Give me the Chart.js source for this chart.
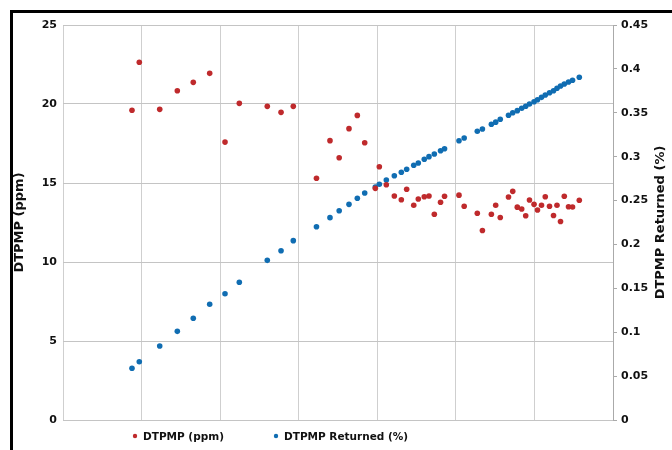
<!DOCTYPE html>
<html>
<head>
<meta charset="utf-8">
<script src="https://cdn.jsdelivr.net/npm/chart.js@4"></script>
<style>
  html, body { margin: 0; padding: 0; background: #fff; overflow: hidden; }
  #wrap { position: relative; width: 672px; height: 450px; }
  #frame { position: absolute; left: 10px; top: 10px; width: 700px; height: 500px;
           border: 3px solid #000; box-sizing: border-box; pointer-events: none; }
</style>
</head>
<body>
<div id="wrap">
  <canvas id="dtpmpChart" width="672" height="450"></canvas>
  <div id="frame"></div>
</div>
<script>
    // sample position along the run (grid units, no labels on the chart)
    var samplePos = [0.878, 0.971, 1.231, 1.455, 1.658, 1.867, 2.062, 2.244, 2.600, 2.775,
        2.931, 3.226, 3.398, 3.515, 3.640, 3.746, 3.840, 3.975, 4.026, 4.115,
        4.217, 4.306, 4.374, 4.464, 4.522, 4.598, 4.658, 4.726, 4.805, 4.856,
        5.040, 5.106, 5.273, 5.338, 5.452, 5.507, 5.565, 5.670, 5.724, 5.782,
        5.838, 5.889, 5.937, 5.995, 6.039, 6.090, 6.138, 6.192, 6.243, 6.287,
        6.332, 6.380, 6.434, 6.485, 6.571];

    var dtpmpPpm = [19.60, 22.64, 19.66, 20.84, 21.37, 21.94, 17.59, 20.04, 19.85, 19.47,
        19.85, 15.30, 17.68, 16.60, 18.44, 19.28, 17.55, 14.66, 16.03, 14.89,
        14.18, 13.94, 14.60, 13.59, 13.99, 14.13, 14.18, 13.02, 13.78, 14.16,
        14.23, 13.53, 13.09, 11.99, 13.02, 13.59, 12.82, 14.11, 14.47, 13.47,
        13.35, 12.93, 13.92, 13.65, 13.29, 13.59, 14.13, 13.53, 12.94, 13.59,
        12.56, 14.16, 13.50, 13.48, 13.91];

    var dtpmpReturned = [0.0589, 0.0664, 0.0843, 0.1010, 0.1159, 0.1318, 0.1439, 0.1569, 0.1819, 0.1929,
        0.2043, 0.2202, 0.2305, 0.2384, 0.2457, 0.2526, 0.2586, 0.2654, 0.2685, 0.2734,
        0.2783, 0.2822, 0.2856, 0.2902, 0.2928, 0.2970, 0.3000, 0.3030, 0.3068, 0.3091,
        0.3182, 0.3213, 0.3290, 0.3315, 0.3369, 0.3393, 0.3426, 0.3471, 0.3501, 0.3524,
        0.3551, 0.3574, 0.3600, 0.3626, 0.3649, 0.3676, 0.3702, 0.3729, 0.3751, 0.3779,
        0.3805, 0.3828, 0.3851, 0.3870, 0.3904];

    var seriesNames = ['DTPMP (ppm)', 'DTPMP Returned (%)'];
    var leftTitle = 'DTPMP (ppm)';
    var rightTitle = 'DTPMP Returned (%)';

    function pairs(xs, ys) {
        return xs.map(function (x, i) { return { x: x, y: ys[i] }; });
    }

    var FONT = "'DejaVu Sans', sans-serif";

    // right axis title reads bottom-to-top, so draw it ourselves
    var rightTitlePlugin = {
        id: 'rightTitle',
        afterDraw: function (chart) {
            var c = chart.ctx, a = chart.chartArea;
            c.save();
            c.translate(661, (a.top + a.bottom) / 2);
            c.rotate(-Math.PI / 2);
            c.font = 'bold 13px ' + FONT;
            c.fillStyle = '#111';
            c.textAlign = 'center';
            c.textBaseline = 'middle';
            c.fillText(rightTitle, 0, 0);
            c.restore();
        }
    };

    // legend spaced wider than the built-in one allows
    var legendPlugin = {
        id: 'wideLegend',
        afterDraw: function (chart) {
            var c = chart.ctx;
            var xs = [135, 276];
            c.save();
            c.font = 'bold 10.5px ' + FONT;
            c.textBaseline = 'middle';
            c.fillStyle = '#111';
            chart.data.datasets.forEach(function (ds, i) {
                c.fillStyle = ds.backgroundColor;
                c.beginPath();
                c.arc(xs[i], 436, 2.2, 0, Math.PI * 2);
                c.fill();
                c.fillStyle = '#111';
                c.fillText(ds.label, xs[i] + 8, 437);
            });
            c.restore();
        }
    };

    var ctx = document.getElementById('dtpmpChart').getContext('2d');
    var dtpmpChart = new Chart(ctx, {
        type: 'scatter',
        data: {
            datasets: [{
                label: seriesNames[0],
                data: pairs(samplePos, dtpmpPpm),
                yAxisID: 'y',
                backgroundColor: '#bf2a2c',
                borderColor: '#bf2a2c',
                pointRadius: 2.8,
                borderWidth: 0
            }, {
                label: seriesNames[1],
                data: pairs(samplePos, dtpmpReturned),
                yAxisID: 'y1',
                backgroundColor: '#106db2',
                borderColor: '#106db2',
                pointRadius: 2.8,
                borderWidth: 0
            }]
        },
        options: {
            responsive: false,
            animation: false,
            layout: { padding: { left: 12, top: 25, right: 0, bottom: 30 } },
            plugins: {
                tooltip: { enabled: false },
                legend: { display: false }
            },
            scales: {
                x: {
                    type: 'linear',
                    min: 0,
                    max: 7,
                    ticks: { display: false, stepSize: 1 },
                    grid: { color: '#cfcfcf', drawTicks: false },
                    border: { display: false }
                },
                y: {
                    position: 'left',
                    min: 0,
                    max: 25,
                    ticks: {
                        stepSize: 5,
                        padding: 6,
                        color: '#111',
                        font: { family: FONT, size: 11, weight: 'bold' }
                    },
                    grid: { color: '#c4c4c4', drawTicks: false },
                    border: { display: false },
                    title: {
                        display: true,
                        text: leftTitle,
                        color: '#111',
                        padding: 0,
                        font: { family: FONT, size: 13, weight: 'bold' }
                    },
                    afterFit: function (s) { s.width = 51; }
                },
                y1: {
                    position: 'right',
                    min: 0,
                    max: 0.45,
                    ticks: {
                        stepSize: 0.05,
                        padding: 4,
                        color: '#111',
                        font: { family: FONT, size: 11, weight: 'bold' },
                        callback: function (v) { return String(+v.toFixed(2)); }
                    },
                    grid: { drawOnChartArea: false, color: '#aaa', tickLength: 4 },
                    border: { display: true, color: '#aaa' },
                    afterFit: function (s) { s.width = 59; }
                }
            }
        },
        plugins: [rightTitlePlugin, legendPlugin]
    });
</script>
</body>
</html>
